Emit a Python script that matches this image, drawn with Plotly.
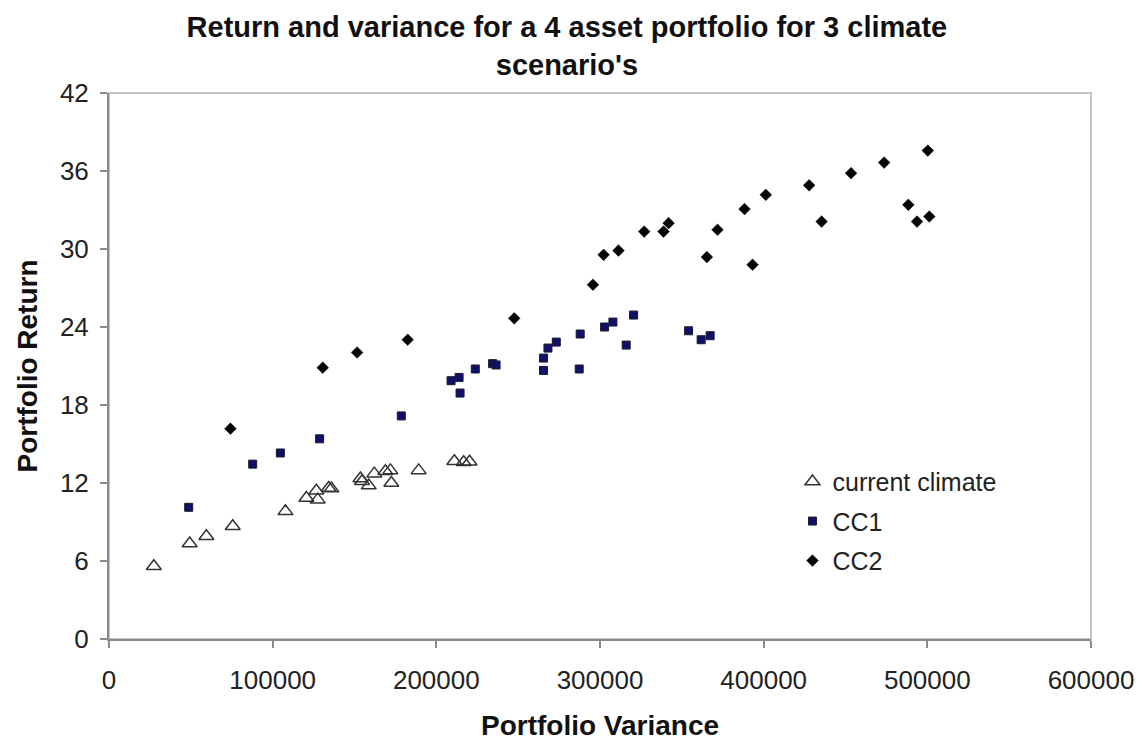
import plotly.graph_objects as go

# ---- data ----
cur_var = [27400, 49300, 59500, 75600, 107800, 120600, 126700, 127500, 134200, 135900,
           153600, 154600, 158700, 162100, 168900, 171900, 172500, 189200, 211000, 216700, 220300]
cur_ret = [5.6, 7.34, 7.9, 8.67, 9.82, 10.85, 11.41, 10.72, 11.62, 11.57,
           12.34, 12.13, 11.8, 12.72, 12.9, 12.97, 12.0, 12.97, 13.67, 13.59, 13.64]

cc1_var = [48700, 87800, 104700, 128700, 178600, 209000, 213900, 214500, 223800, 234400,
           236500, 265500, 265500, 268200, 273300, 287900, 287300, 302800, 307900, 320500,
           316000, 354100, 361800, 367300]
cc1_ret = [10.13, 13.45, 14.31, 15.4, 17.16, 19.87, 20.12, 18.92, 20.77, 21.18,
           21.08, 21.61, 20.66, 22.38, 22.84, 23.46, 20.77, 24.0, 24.38, 24.92,
           22.61, 23.71, 23.02, 23.33]

cc2_var = [74200, 130600, 151600, 182500, 247600, 295700, 302200, 311300, 327000, 338800,
           341900, 365300, 371800, 388300, 393200, 401300, 427800, 435400, 453400, 473600,
           488400, 493700, 501200, 500300]
cc2_ret = [16.18, 20.87, 22.04, 23.02, 24.67, 27.25, 29.55, 29.88, 31.34, 31.34,
           31.99, 29.38, 31.48, 33.07, 28.79, 34.17, 34.9, 32.11, 35.83, 36.65,
           33.4, 32.11, 32.5, 37.57]

series_names = ["current climate", "CC1", "CC2"]
x_ticks = [0, 100000, 200000, 300000, 400000, 500000, 600000]
y_ticks = [0, 6, 12, 18, 24, 30, 36, 42]

FONT = "Liberation Sans, Arial, sans-serif"

fig = go.Figure()
fig.add_trace(go.Scatter(
    x=cur_var, y=cur_ret, mode="markers", name=series_names[0], legendgroup="a",
    marker=dict(symbol="triangle-up-open", size=13, color="#333333",
                line=dict(width=1.5, color="#333333"))))
fig.add_trace(go.Scatter(
    x=cc1_var, y=cc1_ret, mode="markers", name=series_names[1], legendgroup="b",
    marker=dict(symbol="square", size=8, color="#10106a",
                line=dict(width=1, color="#1a1a2e"))))
fig.add_trace(go.Scatter(
    x=cc2_var, y=cc2_ret, mode="markers", name=series_names[2], legendgroup="c",
    marker=dict(symbol="diamond", size=9, color="#050505",
                line=dict(width=0.5, color="#000000"))))

fig.update_layout(
    width=1143, height=739,
    paper_bgcolor="white", plot_bgcolor="white",
    margin=dict(l=100.5, r=60, t=85, b=107.5),
    font=dict(family=FONT, color="#222222", size=26),
    title=dict(
        text="<b>Return and variance for a 4 asset portfolio for 3 climate<br>scenario's</b>",
        x=0.489, xanchor="center", y=0.961, yanchor="middle",
        font=dict(family=FONT, size=29, color="#111111")),
    showlegend=True,
    legend=dict(x=0.696, y=0.330, xanchor="left", yanchor="top",
                bgcolor="rgba(0,0,0,0)", font=dict(size=25, color="#222222"),
                itemwidth=30, tracegroupgap=4),
    shapes=[dict(type="rect", xref="paper", yref="paper", x0=0, y0=0, x1=1, y1=1,
                 line=dict(color="#c4c4c4", width=2), layer="below")],
)

fig.update_xaxes(
    range=[0, 600000], tickvals=x_ticks, ticktext=[str(v) for v in x_ticks],
    showgrid=False, zeroline=False, showline=True, linecolor="#8a8a8a", linewidth=2,
    ticks="outside", ticklen=7, tickcolor="#8a8a8a", tickwidth=1.5,
    ticklabelstandoff=10, tickfont=dict(size=26, color="#222222"),
    title=dict(text="<b>Portfolio Variance</b>", font=dict(size=28, color="#111111"), standoff=21),
)
fig.update_yaxes(
    range=[0, 42], tickvals=y_ticks, ticktext=[str(v) for v in y_ticks],
    showgrid=False, zeroline=False, showline=True, linecolor="#8a8a8a", linewidth=2,
    ticks="outside", ticklen=7, tickcolor="#8a8a8a", tickwidth=1.5,
    ticklabelstandoff=6, tickfont=dict(size=26, color="#222222"),
    title=dict(text="<b>Portfolio Return</b>", font=dict(size=28, color="#111111"), standoff=14),
)

fig.write_html("out.html")
